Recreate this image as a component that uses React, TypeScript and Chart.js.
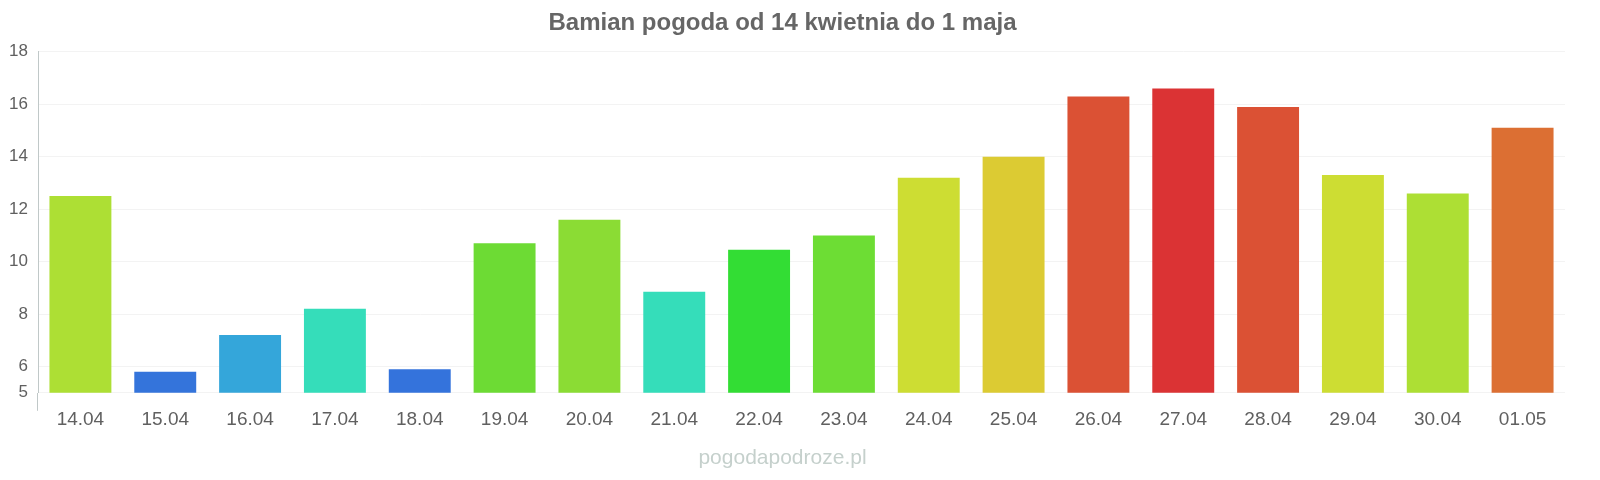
import React, { useEffect, useRef } from "react";
import { Chart, registerables } from "chart.js";

Chart.register(...registerables);

const categories = [
  "14.04", "15.04", "16.04", "17.04", "18.04", "19.04", "20.04", "21.04", "22.04",
  "23.04", "24.04", "25.04", "26.04", "27.04", "28.04", "29.04", "30.04", "01.05",
];

const temperatures = [
  12.5, 5.8, 7.2, 8.2, 5.9, 10.7, 11.6, 8.85, 10.45,
  11.0, 13.2, 14.0, 16.3, 16.6, 15.9, 13.3, 12.6, 15.1,
];

const barColors = [
  "#addf34", "#3474db", "#34a6da", "#35ddba", "#3473dc", "#6ddb34", "#8bdc34", "#35ddba", "#33dd34",
  "#6ddd34", "#cddd33", "#dccb33", "#db5134", "#db3334", "#db5134", "#cddd33", "#addf34", "#dc6f33",
];

const yTickValues = [5, 6, 8, 10, 12, 14, 16, 18];

const titleText = "Bamian pogoda od 14 kwietnia do 1 maja";
const watermarkText = "pogodapodroze.pl";

export default function App() {
  const canvasRef = useRef<HTMLCanvasElement | null>(null);

  useEffect(() => {
    document.body.style.margin = "0";
    if (!canvasRef.current) return;
    const chart = new Chart(canvasRef.current, {
      type: "bar",
      data: {
        labels: categories,
        datasets: [
          {
            data: temperatures,
            backgroundColor: barColors,
            borderWidth: 0,
            barPercentage: 0.73,
            categoryPercentage: 1,
          },
        ],
      },
      options: {
        animation: false,
        responsive: false,
        maintainAspectRatio: false,
        layout: { padding: { left: 0, right: 35, top: 0, bottom: 0 } },
        plugins: {
          legend: { display: false },
          tooltip: { enabled: false },
          title: {
            display: true,
            text: titleText,
            color: "#666666",
            font: { family: "'Liberation Sans', Arial, sans-serif", size: 24, weight: "bold" },
            padding: { top: 9, bottom: 14 },
          },
          subtitle: {
            display: true,
            position: "bottom",
            text: watermarkText,
            color: "#c5d0cc",
            font: { family: "'Liberation Sans', Arial, sans-serif", size: 21, weight: "normal" },
            padding: { top: 0, bottom: 9 },
          },
        },
        scales: {
          x: {
            offset: true,
            border: { display: false },
            grid: {
              display: true,
              drawOnChartArea: false,
              drawTicks: true,
              tickLength: 18,
              offset: true,
              color: (ctx: any) => (ctx.index === 0 ? "#c0c8c8" : "rgba(0,0,0,0)"),
            },
            ticks: {
              color: "#606060",
              padding: -2,
              font: { family: "'Liberation Sans', Arial, sans-serif", size: 19 },
              maxRotation: 0,
              autoSkip: false,
            },
            afterFit: (scale: any) => {
              scale.height = 53;
            },
          },
          y: {
            min: 5,
            max: 18,
            border: { display: true, color: "#c0c8c8" },
            grid: { color: "#f3f3f3", drawTicks: false },
            ticks: {
              color: "#606060",
              padding: 10,
              font: { family: "'Liberation Sans', Arial, sans-serif", size: 17 },
            },
            afterBuildTicks: (scale: any) => {
              scale.ticks = yTickValues.map((v) => ({ value: v }));
            },
            afterFit: (scale: any) => {
              scale.width = 38;
            },
          },
        },
      },
    });
    return () => chart.destroy();
  }, []);

  return (
    <div style={{ width: 1600, height: 480 }}>
      <canvas ref={canvasRef} width={1600} height={480} style={{ display: "block" }} />
    </div>
  );
}
